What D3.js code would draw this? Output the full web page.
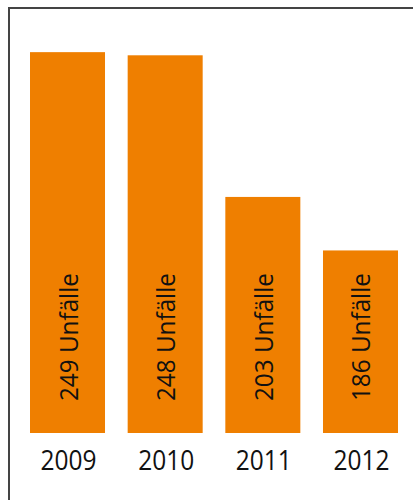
<!DOCTYPE html>
<html>
<head>
<meta charset="utf-8">
<script src="https://cdn.jsdelivr.net/npm/d3@7"></script>
<style>
  body { margin: 0; background: #fff; }
  svg { display: block; }
</style>
</head>
<body>
<svg id="root"></svg>
<script>
// Unfälle pro Jahr

const years = ["2009", "2010", "2011", "2012"];
const accidents = [249, 248, 203, 186];
const unitLabel = "Unfälle";

const width = 413,
  height = 500;
const baseY = 433;

const svg = d3.select("#root").attr("width", width).attr("height", height);

// Frame (only top and left edges are inside the picture)
svg
  .append("rect")
  .attr("x", 9)
  .attr("y", 8)
  .attr("width", 600)
  .attr("height", 700)
  .attr("fill", "none")
  .attr("stroke", "#444")
  .attr("stroke-width", 2);

let xScale = d3.scaleBand().domain(years).range([30, 398]).paddingInner(0.232).paddingOuter(0);
// the bars in the original are not drawn from zero
let yScale = d3.scaleLinear([128, 250], [baseY, 49]);

const rows = years.map((y, i) => ({ year: y, value: accidents[i] }));

// Bars
svg
  .selectAll(".bar")
  .data(rows)
  .join("rect")
  .attr("class", "bar")
  .attr("x", (d) => xScale(d.year))
  .attr("y", (d) => yScale(d.value))
  .attr("width", xScale.bandwidth())
  .attr("height", (d) => baseY - yScale(d.value))
  .attr("fill", "#ef7f00");

// Value labels inside bars (condensed a bit, like the original font)
svg
  .selectAll(".val")
  .data(rows)
  .join("text")
  .attr("class", "val")
  .attr("transform", (d) => `translate(${xScale(d.year) + xScale.bandwidth() / 2 + 10},401) rotate(-90)`)
  .attr("text-anchor", "start")
  .attr("font-family", "Open Sans")
  .attr("font-size", 26)
  .attr("textLength", 128)
  .attr("lengthAdjust", "spacingAndGlyphs")
  .attr("fill", "#111")
  .text((d) => `${d.value} ${unitLabel}`);

// Year labels
svg
  .selectAll(".year")
  .data(rows)
  .join("text")
  .attr("class", "year")
  .attr("x", (d) => xScale(d.year) + xScale.bandwidth() / 2 + 1)
  .attr("y", 470)
  .attr("text-anchor", "middle")
  .attr("font-family", "Open Sans")
  .attr("font-size", 27)
  .attr("textLength", 56)
  .attr("lengthAdjust", "spacingAndGlyphs")
  .attr("fill", "#111")
  .text((d) => d.year);
</script>
</body>
</html>
